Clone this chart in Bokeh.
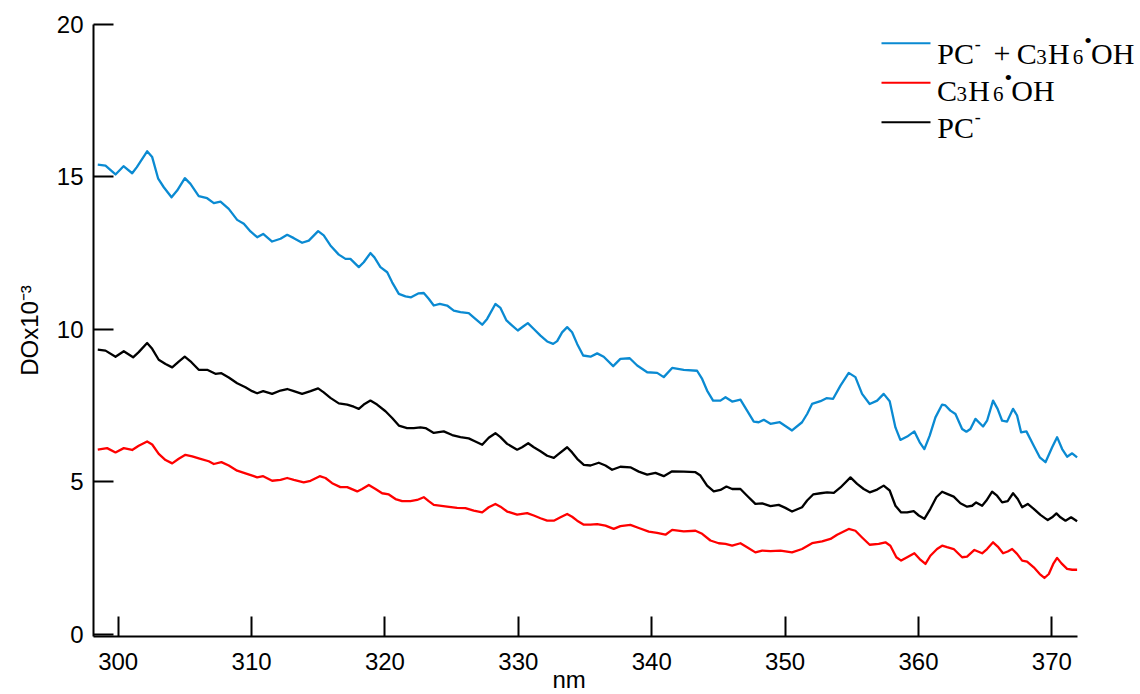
from bokeh.plotting import figure
from bokeh.models import Range1d, FixedTicker, Label, Title
from bokeh.embed import file_html
from bokeh.resources import INLINE

# ---------------- data ----------------
wl_mix = [298.47, 299.05, 299.80, 300.40, 301.05, 301.40, 302.17, 302.55, 303.00, 303.42,
          304.00, 304.42, 305.00, 305.42, 306.04, 306.67, 307.17, 307.67, 308.29, 308.92,
          309.42, 309.92, 310.42, 310.87, 311.54, 312.17, 312.67, 313.17, 313.79, 314.29,
          314.99, 315.41, 315.91, 316.54, 317.04, 317.41, 318.04, 318.41, 318.91, 319.21,
          319.66, 320.17, 320.54, 321.04, 321.54, 321.96, 322.53, 322.91, 323.28, 323.66,
          324.11, 324.66, 325.16, 325.66, 326.28, 326.78, 327.29, 327.66, 328.28, 328.66,
          329.11, 329.54, 329.96, 330.36, 330.71, 331.16, 331.66, 332.16, 332.61, 332.91,
          333.28, 333.66, 334.03, 334.41, 334.86, 335.41, 335.91, 336.40, 337.11, 337.65,
          338.35, 338.91, 339.66, 340.41, 340.90, 341.53, 342.40, 343.40, 343.78, 344.15,
          344.60, 345.15, 345.53, 346.03, 346.65, 347.15, 347.65, 348.02, 348.40, 348.90,
          349.60, 350.52, 351.27, 351.65, 352.02, 352.65, 353.10, 353.60, 354.15, 354.77,
          355.27, 355.77, 356.34, 356.90, 357.39, 357.84, 358.27, 358.64, 359.15, 359.69,
          360.09, 360.44, 360.84, 361.27, 361.77, 362.02, 362.39, 362.77, 363.27, 363.59,
          363.89, 364.27, 364.84, 365.14, 365.59, 365.93, 366.27, 366.64, 367.09, 367.39,
          367.69, 368.09, 368.64, 369.09, 369.52, 370.02, 370.39, 370.77, 371.14, 371.52,
          371.89]
do_mix = [15.40, 15.37, 15.08, 15.35, 15.12, 15.32, 15.84, 15.65, 14.94, 14.66,
          14.33, 14.55, 14.96, 14.77, 14.37, 14.30, 14.14, 14.19, 13.95, 13.59,
          13.46, 13.21, 13.02, 13.13, 12.88, 12.97, 13.10, 12.99, 12.84, 12.91,
          13.22, 13.08, 12.75, 12.45, 12.31, 12.31, 12.04, 12.20, 12.50, 12.36,
          12.04, 11.87, 11.54, 11.16, 11.08, 11.05, 11.18, 11.19, 11.00, 10.78,
          10.83, 10.78, 10.61, 10.56, 10.53, 10.34, 10.15, 10.34, 10.83, 10.70,
          10.29, 10.12, 9.96, 10.09, 10.20, 10.01, 9.79, 9.60, 9.52, 9.61,
          9.90, 10.07, 9.90, 9.52, 9.14, 9.10, 9.21, 9.10, 8.79, 9.03,
          9.05, 8.81, 8.59, 8.57, 8.43, 8.73, 8.67, 8.64, 8.37, 7.99,
          7.66, 7.66, 7.77, 7.63, 7.69, 7.33, 6.97, 6.95, 7.03, 6.90,
          6.95, 6.68, 6.95, 7.22, 7.55, 7.64, 7.74, 7.72, 8.15, 8.57,
          8.43, 7.88, 7.55, 7.66, 7.88, 7.64, 6.78, 6.37, 6.48, 6.65,
          6.29, 6.07, 6.51, 7.11, 7.53, 7.50, 7.33, 7.22, 6.73, 6.64,
          6.73, 7.06, 6.81, 7.00, 7.66, 7.39, 7.00, 6.97, 7.39, 7.17,
          6.62, 6.65, 6.18, 5.80, 5.64, 6.13, 6.46, 6.07, 5.82, 5.93,
          5.80]

wl_rad = [298.47, 299.17, 299.80, 300.42, 301.05, 301.54, 302.17, 302.55, 303.04, 303.55,
          304.05, 304.54, 305.04, 305.55, 306.17, 306.79, 307.17, 307.74, 308.29, 308.92,
          309.54, 310.17, 310.42, 310.87, 311.54, 312.17, 312.67, 313.17, 313.91, 314.42,
          315.11, 315.54, 316.04, 316.66, 317.17, 317.92, 318.29, 318.79, 319.29, 319.79,
          320.29, 320.79, 321.29, 321.91, 322.41, 322.91, 323.28, 323.66, 324.66, 325.41,
          326.03, 326.66, 327.29, 327.78, 328.28, 328.66, 329.16, 329.91, 330.66, 331.16,
          331.66, 332.16, 332.66, 333.16, 333.66, 334.03, 334.41, 334.91, 335.41, 335.91,
          336.53, 337.15, 337.65, 338.40, 339.03, 339.78, 340.40, 341.03, 341.53, 342.40,
          343.28, 343.78, 344.40, 345.02, 345.53, 346.03, 346.65, 347.15, 347.77, 348.28,
          348.90, 349.65, 350.52, 351.27, 352.02, 352.77, 353.40, 353.90, 354.77, 355.27,
          355.77, 356.34, 357.02, 357.52, 357.89, 358.34, 358.70, 359.15, 359.69, 360.09,
          360.52, 360.89, 361.39, 361.77, 362.14, 362.64, 363.27, 363.64, 364.19, 364.77,
          365.14, 365.59, 365.94, 366.34, 366.69, 367.02, 367.39, 367.77, 368.14, 368.64,
          369.09, 369.44, 369.77, 370.10, 370.39, 370.72, 371.14, 371.52, 371.89]
do_rad = [6.05, 6.10, 5.96, 6.10, 6.04, 6.18, 6.32, 6.22, 5.91, 5.71,
          5.60, 5.75, 5.88, 5.83, 5.75, 5.67, 5.58, 5.64, 5.53, 5.36,
          5.27, 5.18, 5.14, 5.18, 5.03, 5.06, 5.12, 5.06, 4.98, 5.03,
          5.18, 5.12, 4.95, 4.82, 4.82, 4.68, 4.76, 4.89, 4.76, 4.62,
          4.58, 4.43, 4.36, 4.36, 4.40, 4.49, 4.36, 4.24, 4.18, 4.14,
          4.13, 4.05, 3.99, 4.16, 4.27, 4.18, 4.02, 3.92, 3.97, 3.89,
          3.80, 3.72, 3.72, 3.83, 3.94, 3.85, 3.72, 3.59, 3.59, 3.61,
          3.56, 3.45, 3.54, 3.58, 3.48, 3.36, 3.32, 3.26, 3.42, 3.37,
          3.39, 3.29, 3.07, 2.98, 2.96, 2.90, 2.98, 2.85, 2.68, 2.74,
          2.72, 2.74, 2.68, 2.79, 2.98, 3.04, 3.12, 3.26, 3.45, 3.39,
          3.17, 2.93, 2.96, 3.01, 2.90, 2.52, 2.41, 2.52, 2.65, 2.46,
          2.30, 2.57, 2.79, 2.90, 2.85, 2.79, 2.52, 2.54, 2.76, 2.65,
          2.79, 3.01, 2.87, 2.65, 2.71, 2.79, 2.63, 2.41, 2.38, 2.19,
          1.97, 1.84, 1.97, 2.30, 2.50, 2.32, 2.14, 2.11, 2.11]

wl_pc = [298.47, 299.05, 299.80, 300.42, 301.12, 301.54, 302.17, 302.55, 303.04, 303.55,
         304.05, 304.54, 304.99, 305.49, 306.04, 306.67, 307.29, 307.74, 308.29, 308.92,
         309.54, 310.04, 310.42, 310.87, 311.54, 312.17, 312.67, 313.17, 313.79, 314.42,
         314.99, 315.41, 315.91, 316.54, 317.17, 317.66, 318.04, 318.41, 318.91, 319.41,
         320.04, 320.54, 321.04, 321.66, 322.16, 322.66, 323.04, 323.66, 324.41, 325.04,
         325.66, 326.28, 326.78, 327.29, 327.78, 328.28, 328.66, 329.16, 329.91, 330.28,
         330.74, 331.16, 331.66, 332.16, 332.66, 333.03, 333.66, 334.03, 334.41, 334.91,
         335.41, 336.03, 336.53, 337.03, 337.65, 338.40, 339.03, 339.66, 340.28, 340.90,
         341.53, 342.40, 343.28, 343.65, 344.15, 344.65, 345.15, 345.60, 346.03, 346.65,
         347.15, 347.77, 348.28, 348.90, 349.52, 350.02, 350.52, 351.27, 351.65, 352.10,
         352.65, 353.15, 353.65, 354.15, 354.90, 355.40, 355.89, 356.34, 356.90, 357.39,
         357.84, 358.27, 358.70, 359.15, 359.64, 360.02, 360.44, 360.89, 361.34, 361.77,
         362.14, 362.64, 363.14, 363.64, 364.02, 364.32, 364.77, 365.09, 365.52, 365.89,
         366.27, 366.69, 367.09, 367.44, 367.77, 368.19, 368.64, 369.14, 369.69, 370.02,
         370.34, 370.64, 371.02, 371.44, 371.89]
do_pc = [9.33, 9.30, 9.10, 9.28, 9.08, 9.25, 9.55, 9.36, 9.00, 8.86,
         8.75, 8.94, 9.10, 8.92, 8.67, 8.67, 8.54, 8.56, 8.42, 8.23,
         8.10, 7.97, 7.90, 7.97, 7.88, 7.99, 8.04, 7.97, 7.88, 7.97,
         8.06, 7.93, 7.75, 7.57, 7.53, 7.46, 7.39, 7.53, 7.66, 7.53,
         7.31, 7.09, 6.84, 6.76, 6.76, 6.78, 6.76, 6.60, 6.65, 6.53,
         6.46, 6.42, 6.32, 6.21, 6.44, 6.59, 6.46, 6.24, 6.05, 6.13,
         6.26, 6.13, 6.00, 5.85, 5.78, 5.91, 6.13, 5.96, 5.75, 5.55,
         5.53, 5.62, 5.53, 5.39, 5.49, 5.47, 5.33, 5.23, 5.29, 5.18,
         5.34, 5.33, 5.31, 5.20, 4.87, 4.68, 4.73, 4.84, 4.76, 4.76,
         4.54, 4.27, 4.29, 4.20, 4.24, 4.14, 4.02, 4.16, 4.38, 4.58,
         4.62, 4.65, 4.63, 4.81, 5.14, 4.93, 4.76, 4.65, 4.74, 4.87,
         4.71, 4.21, 3.99, 3.99, 4.03, 3.89, 3.78, 4.11, 4.49, 4.67,
         4.60, 4.51, 4.29, 4.18, 4.21, 4.32, 4.21, 4.38, 4.67, 4.54,
         4.32, 4.36, 4.62, 4.43, 4.16, 4.27, 4.11, 3.91, 3.74, 3.83,
         3.96, 3.83, 3.72, 3.83, 3.70]

x_ticks = [300, 310, 320, 330, 340, 350, 360, 370]
y_ticks = [0, 5, 10, 15, 20]

BLUE, RED, BLACK = "#0a8ad2", "#ff0000", "#000000"

# ---------------- geometry (canvas pixels) ----------------
W, H = 1140, 694
FL, FR, FT, FB = 93, 1077, 24, 636          # where the axes run
X0, X1 = 298.15, 371.92                     # x values at FL and FR
Y0, Y1 = -0.08, 20.0


def px_x(px):
    return X0 + (px - FL) * (X1 - X0) / (FR - FL)


def px_y(py):
    return Y1 - (py - FT) * (Y1 - Y0) / (FB - FT)


# the frame reaches the right edge so the legend text is not clipped;
# the x axis itself is bounded to [X0, X1]
p = figure(width=W, height=H, output_backend="svg", toolbar_location=None,
           x_range=Range1d(X0, px_x(W)), y_range=Range1d(Y0, Y1),
           min_border_left=FL, min_border_right=0,
           min_border_top=FT, min_border_bottom=H - FB)
p.outline_line_color = None
p.grid.visible = False
p.background_fill_color = "white"
p.border_fill_color = "white"

for ax in (p.xaxis[0], p.yaxis[0]):
    ax.axis_line_width = 2
    ax.axis_line_color = "black"
    ax.major_tick_line_width = 2
    ax.major_tick_line_color = "black"
    ax.major_tick_in = 20
    ax.major_tick_out = 0
    ax.minor_tick_line_color = None
    ax.major_label_text_font = "Liberation Sans"
    ax.major_label_text_font_size = "24px"
    ax.major_label_text_color = "black"
    ax.axis_label_text_font = "Liberation Sans"
    ax.axis_label_text_font_size = "24px"
    ax.axis_label_text_font_style = "normal"
    ax.axis_label_text_color = "black"
p.xaxis.bounds = (X0, X1)
p.xaxis.ticker = FixedTicker(ticks=x_ticks)
p.yaxis.ticker = FixedTicker(ticks=y_ticks)
p.xaxis.major_label_standoff = 16
p.yaxis.major_label_standoff = 10
p.yaxis.axis_label = "DOx10\u207b\u00b3"
p.yaxis.axis_label_standoff = 11

# x-axis title, placed under the 330-340 gap as in the original
p.add_layout(Title(text="nm", align="left", offset=565 - 13 - FL, standoff=-14,
                   vertical_align="top", text_font="Liberation Sans",
                   text_font_size="24px", text_font_style="normal",
                   text_color="black"), "below")

LW = 2.3
p.line(wl_mix, do_mix, line_color=BLUE, line_width=LW, line_join="round")
p.line(wl_rad, do_rad, line_color=RED, line_width=LW, line_join="round")
p.line(wl_pc, do_pc, line_color=BLACK, line_width=LW, line_join="round")

# ---------------- legend ----------------
SERIF = "Liberation Serif"


def add_label(text, px, py, size, font=SERIF):
    p.add_layout(Label(x=px_x(px), y=px_y(py), text=text, text_font=font,
                       text_font_size=f"{size}px", text_color="black",
                       text_align="left", text_baseline="alphabetic"))


SW0, SW1 = 881, 930
rows_y = [42.7, 82.3, 121.7]
p.segment(x0=[px_x(SW0)] * 3, x1=[px_x(SW1)] * 3,
          y0=[px_y(v) for v in rows_y], y1=[px_y(v) for v in rows_y],
          line_color=[BLUE, RED, BLACK], line_width=2)


def radical(x, base):
    add_label("C", x, base, 30)
    add_label("3", x + 19.5, base + 3.4, 21)
    add_label("H", x + 31.2, base, 30)
    add_label("6", x + 56, base + 3.4, 21)
    add_label("\u2022", x + 67.5, base - 13, 22)
    add_label("OH", x + 74.2, base, 30)


def pc(x, base):
    add_label("PC", x, base, 30)
    add_label("-", x + 37.5, base - 10.5, 18)


pc(936.8, 53.3)
add_label("+", 993, 53.3, 30)
radical(1016.3, 53.3)
radical(936.6, 90.0)
pc(936.8, 126.7)

open("out.html", "w").write(file_html(p, INLINE))
